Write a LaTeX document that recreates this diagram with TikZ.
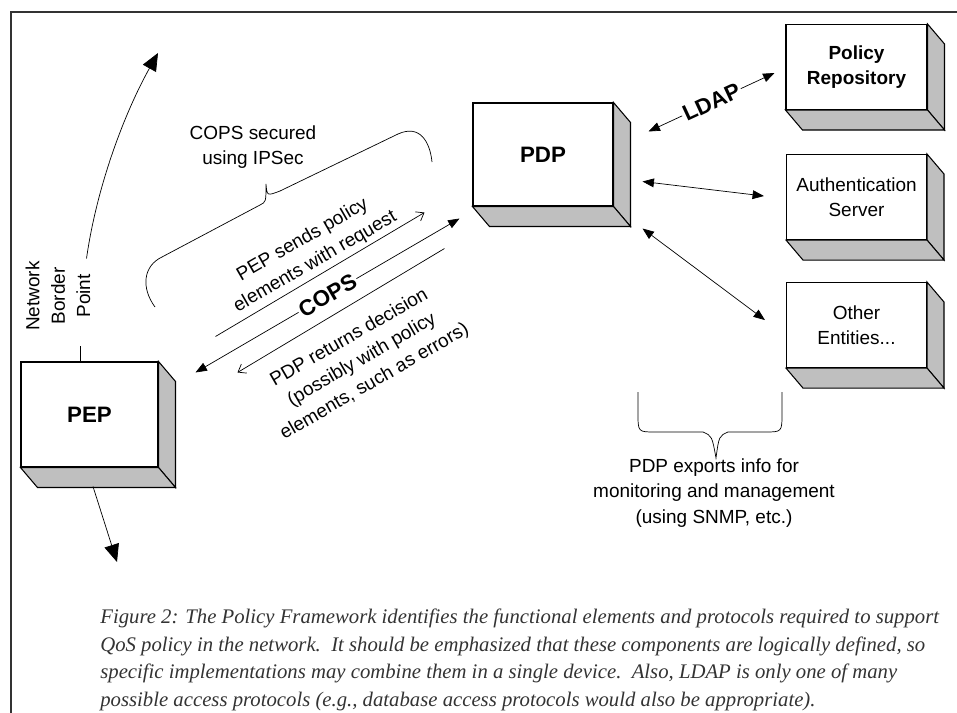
\documentclass[tikz,border=0pt]{standalone}
\usepackage{fontspec}
\setmainfont{Liberation Serif}
\setsansfont{Liberation Sans}
\usetikzlibrary{positioning,calc,arrows.meta}

\newcommand{\smalltext}{\fontsize{10.8}{14.4}\selectfont}
\newcommand{\boxtitle}{\sffamily\bfseries\fontsize{12.7}{15}\selectfont}

\tikzstyle{box} = [
        rectangle,
        minimum width=2.8cm,
        minimum height=1.7cm,
        align=center,
        draw=black,
        fill=white,
        line width=0.6pt,
    ]
\tikzstyle{side} = [draw=black, fill=gray!50, line width=0.6pt]
\tikzstyle{dblarrow} = [thin, {Triangle[length=6.5pt,width=5pt]}-{Triangle[length=6.5pt,width=5pt]}]
\tikzstyle{openarrow} = [thin, -{Straight Barb[length=4pt,width=6pt]}]
\tikzstyle{bigarrow} = [thin, -{Triangle[length=10pt,width=8.5pt]}]

\begin{document}
\begin{tikzpicture}[x=0.02cm, y=-0.02cm, font=\sffamily\smalltext]
            \useasboundingbox (0,0) rectangle (957,713);
            \draw [line width=0.8pt, black!80] (11,713) -- (11,12) -- (957,12);

            % elements of the framework
            \node [box, minimum width=2.74cm, minimum height=2.1cm, font=\boxtitle] (pep) at (89.5,414.5) {PEP};
            \node [box, minimum height=2.06cm, font=\boxtitle] (pdp) at (543,154.5) {PDP};
            \node [box, minimum width=2.82cm, font=\sffamily\bfseries\smalltext] (repo) at (856.5,67) {Policy\\Repository};
            \node [box, below=0.88cm of repo] (auth) {Authentication\\Server};
            \node [box, below=0.84cm of auth] (other) {Other\\Entities...};
            \foreach \b in {pep,pdp,repo,auth,other} {
                \draw [side] (\b.north east) -- ++(17,20) -- ($(\b.south east)+(17,20)$) -- (\b.south east) -- cycle;
                \draw [side] (\b.south west) -- ++(17,20) -- ($(\b.south east)+(17,20)$) -- (\b.south east) -- cycle;
            }

            % network border
            \coordinate (border top) at (158,53);
            \coordinate (border bottom) at (117,562);
            \node [rotate=90, align=center] (border) at (58,296) {Network\\Border\\Point};
            \draw [bigarrow] ($(pep.north)+(-3,-103)$) .. controls (97,185) and (125,112) .. (border top);
            \draw [thin] ($(pep.north)+(-9,-15)$) -- ($(pep.north)+(-9,0)$);
            \draw [bigarrow] ($(pep.south)+(3.5,19)$) -- (border bottom);

            % COPS between PEP and PDP
            \draw [dblarrow] ($(pep.north east)+(37,11)$) -- node [sloped, fill=white, inner sep=1pt, font=\boxtitle] {COPS} ($(pdp.south west)+(-13,12)$);
            \draw [openarrow] ($(pep.north east)+(57,-25)$) -- ($(pdp.south west)+(-48,6)$);
            \draw [openarrow] ($(pdp.south west)+(-28,42)$) -- ($(pep.north east)+(79,11)$);
            \node [rotate=30, align=center] (sends) at (309,251) {PEP sends policy\\elements with request};
            \node [rotate=30, align=center] (returns) at (362,360) {PDP returns decision\\(possibly with policy\\elements, such as errors)};
            \node [align=center] (ipsec) at (253,147) {COPS secured\\using IPSec};
            \draw [thin] (155,307) .. controls (141,288) and (143,266) .. (162,257) -- (260,205) .. controls (266,202) .. (266,184) .. controls (267,196) .. (280,191) -- (398,134) .. controls (420,124) and (430,142) .. (432,162);

            % PDP to the other entities
            \draw [dblarrow] ($(pdp.north east)+(35,29)$) -- node [sloped, fill=white, inner sep=1pt, font=\boxtitle] {LDAP} ($(repo.west)+(-11,6)$);
            \draw [dblarrow] ($(pdp.east)+(29,27)$) -- ($(auth.west)+(-22,-1)$);
            \draw [dblarrow] ($(pdp.south east)+(29,22)$) -- ($(other.west)+(-21,-5)$);
            \draw [thin] (638,392) -- (638,413) .. controls (638,432) .. (655,432) -- (703,432) .. controls (712,436) .. (716,458) .. controls (719,436) .. (728,432) -- (765,432) .. controls (782,432) .. (782,413) -- (782,392);
            \node [align=center] (exports) at (714,493) {PDP exports info for\\monitoring and management\\(using SNMP, etc.)};

            % caption
            \node [anchor=north west, align=left, inner sep=0pt, text=black!80, font=\rmfamily\itshape\fontsize{11.8}{15.6}\selectfont] (caption) at (100,609) {Figure 2: The Policy Framework identifies the functional elements and protocols required to support\\QoS policy in the network.\ \ It should be emphasized that these components are logically defined, so\\specific implementations may combine them in a single device.\ \ Also, LDAP is only one of many\\possible access protocols (e.g., database access protocols would also be appropriate).};
        \end{tikzpicture}
\end{document}
